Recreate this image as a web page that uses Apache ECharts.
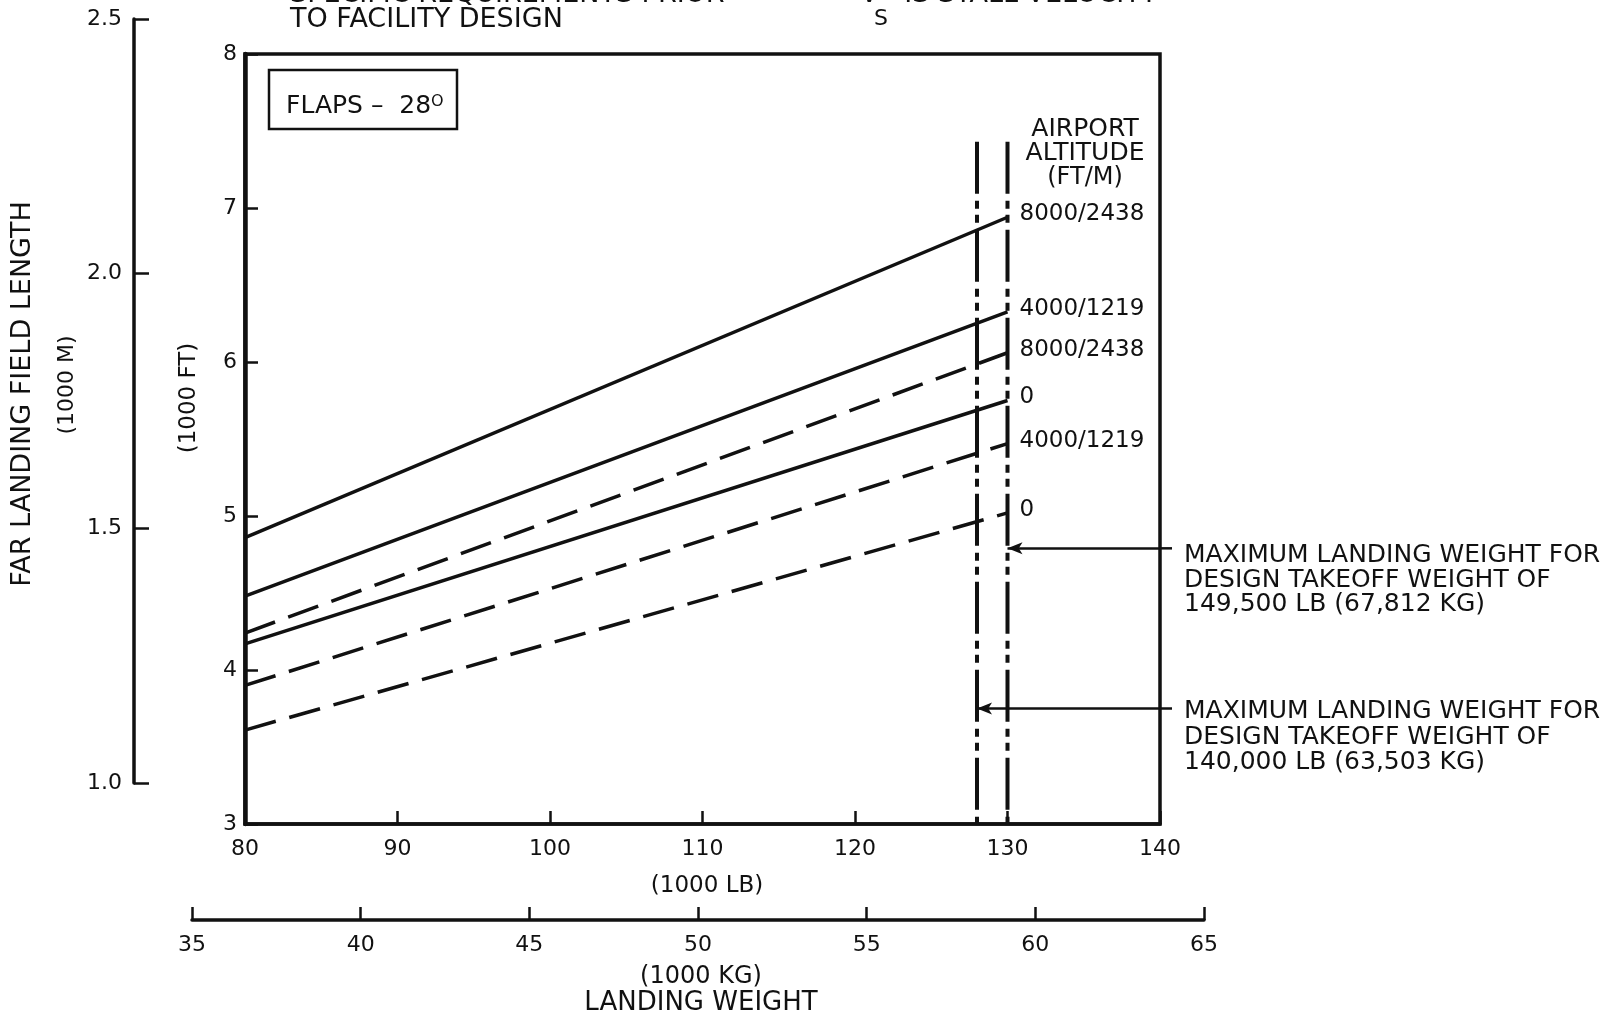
<!DOCTYPE html>
<html>
<head>
<meta charset="utf-8">
<title>FAR landing field length</title>
<script src="https://cdn.jsdelivr.net/npm/echarts@6/dist/echarts.min.js"></script>
<style>
  html, body { margin: 0; padding: 0; background: #fff; }
  #main { width: 1621px; height: 1019px; }
</style>
</head>
<body>
<div id="main"></div>
<script>
// landing weight (1000 lb) at both ends of each line
var weightLb = [80, 130];
// landing field length (1000 ft) at those weights
var solid8000 = [4.86, 6.94];
var solid4000 = [4.48, 6.325];
var solid0 = [4.17, 5.75];
var dashed8000 = [4.24, 6.06];
var dashed4000 = [3.90, 5.47];
var dashed0 = [3.61, 5.02];
var altitudeLabels = ['8000/2438', '4000/1219', '0', '8000/2438', '4000/1219', '0'];

// max landing weights (1000 lb) for the two design takeoff weights
var maxLw140 = 128;
var maxLw149 = 130;
var limitTop = 7.43;
var limitBottom = 3;
var arrowLevels = [4.79, 3.75]; // where the arrows hit the limit lines

var ftTicks = [3, 8, 1];      // min, max, interval
var mTicks = [1.0, 2.5, 0.5];
var lbTicks = [80, 140, 10];
var kgTicks = [35, 65, 5];

var F = 'DejaVu Sans';
var INK = '#111';

var chart = echarts.init(document.getElementById('main'));

function curve(i, vals, dashed) {
  return {
    type: 'line',
    xAxisIndex: 0, yAxisIndex: 0,
    data: weightLb.map(function (x, k) { return [x, vals[k]]; }),
    symbol: 'none',
    silent: true,
    z: 3,
    lineStyle: { color: INK, width: 3.5, type: dashed ? [32, 14] : 'solid' },
    endLabel: {
      show: true,
      formatter: altitudeLabels[i],
      distance: 12,
      offset: [0, -3],
      fontSize: 23,
      fontFamily: F,
      color: INK
    }
  };
}

var limitStyle = { color: INK, width: 4, type: [52, 7, 8, 6, 8, 7] };

var option = {
  animation: false,
  backgroundColor: '#fff',
  grid: [
    { left: 245, top: 54, width: 915, height: 770, show: true, borderColor: INK, borderWidth: 3.5 },
    { left: 134, top: 19, width: 10, height: 764 },
    { left: 192, top: 910, width: 1012, height: 10 }
  ],
  xAxis: [
    {
      gridIndex: 0, type: 'value', min: lbTicks[0], max: lbTicks[1], interval: lbTicks[2],
      axisLine: { lineStyle: { color: INK, width: 3.5 } },
      axisTick: { inside: true, length: 13, lineStyle: { color: INK, width: 2.5 } },
      axisLabel: { margin: 14, fontSize: 22, fontFamily: F, color: INK },
      splitLine: { show: false }
    },
    { gridIndex: 1, type: 'value', min: 0, max: 1, show: false },
    {
      gridIndex: 2, type: 'value', position: 'bottom', min: kgTicks[0], max: kgTicks[1], interval: kgTicks[2],
      axisLine: { lineStyle: { color: INK, width: 3.5 } },
      axisTick: { inside: true, length: 13, lineStyle: { color: INK, width: 2.5 } },
      axisLabel: { margin: 14, fontSize: 22, fontFamily: F, color: INK },
      splitLine: { show: false }
    }
  ],
  yAxis: [
    {
      gridIndex: 0, type: 'value', min: ftTicks[0], max: ftTicks[1], interval: ftTicks[2],
      axisLine: { show: true, lineStyle: { color: INK, width: 4.5 } },
      axisTick: { show: true, inside: true, length: 13, lineStyle: { color: INK, width: 2.5 } },
      axisLabel: { margin: 8, fontSize: 22, fontFamily: F, color: INK },
      splitLine: { show: false }
    },
    {
      gridIndex: 1, type: 'value', min: mTicks[0], max: mTicks[1], interval: mTicks[2],
      axisLine: { show: true, lineStyle: { color: INK, width: 3.5 } },
      axisTick: { show: true, inside: true, length: 15, lineStyle: { color: INK, width: 2.5 } },
      axisLabel: { margin: 12, fontSize: 22, fontFamily: F, color: INK,
        formatter: function (v) { return v.toFixed(1); } },
      splitLine: { show: false }
    },
    { gridIndex: 2, type: 'value', min: 0, max: 1, show: false }
  ],
  series: [
    curve(0, solid8000, false),
    curve(1, solid4000, false),
    curve(2, solid0, false),
    curve(3, dashed8000, true),
    curve(4, dashed4000, true),
    curve(5, dashed0, true),
    {
      type: 'line', xAxisIndex: 0, yAxisIndex: 0, symbol: 'none', silent: true, z: 4,
      data: [[maxLw140, limitTop], [maxLw140, limitBottom]],
      lineStyle: limitStyle
    },
    {
      type: 'line', xAxisIndex: 0, yAxisIndex: 0, symbol: 'none', silent: true, z: 4,
      data: [[maxLw149, limitTop], [maxLw149, limitBottom]],
      lineStyle: limitStyle,
      markLine: {
        silent: true,
        symbol: ['arrow', 'none'],
        symbolSize: [9, 15],
        label: { show: false },
        lineStyle: { color: INK, width: 2.5, type: 'solid' },
        data: [
          [{ coord: [maxLw149, arrowLevels[0]] }, { coord: [lbTicks[1], arrowLevels[0]] }],
          [{ coord: [maxLw140, arrowLevels[1]] }, { coord: [lbTicks[1], arrowLevels[1]] }]
        ]
      }
    }
  ]
};

chart.setOption(option);

function txt(x, y, s, size, extra) {
  var st = { text: s, x: x, y: y, fill: INK, font: (size || 23) + 'px "' + F + '"',
    textAlign: 'left', textVerticalAlign: 'middle' };
  for (var k in extra) st[k] = extra[k];
  return { type: 'text', silent: true, style: st };
}

function vtxt(x, y, s, size) {
  return { type: 'text', silent: true, x: x, y: y, rotation: Math.PI / 2,
    style: { text: s, fill: INK, font: size + 'px "' + F + '"',
      textAlign: 'center', textVerticalAlign: 'middle' } };
}

var ends = arrowLevels.map(function (v) { return chart.convertToPixel({ gridIndex: 0 }, [lbTicks[1], v]); });

var graphics = [
  // clipped note at the very top
  txt(290, -5, 'SPECIFIC REQUIREMENTS PRIOR', 27),
  txt(290, 20, 'TO FACILITY DESIGN', 27),
  txt(860, -5, 'V   IS STALL VELOCITY', 27),
  txt(874, 19, 'S', 22),
  // flaps box
  { type: 'rect', silent: true, shape: { x: 269, y: 70, width: 188, height: 59 },
    style: { fill: '#fff', stroke: INK, lineWidth: 2.5 } },
  { type: 'text', silent: true, x: 286, y: 106, style: {
      text: '{a|FLAPS –  28}{b|O}', textVerticalAlign: 'middle', fill: INK,
      rich: { a: { fontSize: 25, fontFamily: F, color: INK },
              b: { fontSize: 16, fontFamily: F, color: INK, verticalAlign: 'top' } } } },
  // airport altitude heading
  txt(1085, 129, 'AIRPORT', 25, { textAlign: 'center' }),
  txt(1085, 153, 'ALTITUDE', 25, { textAlign: 'center' }),
  txt(1085, 178, '(FT/M)', 24, { textAlign: 'center' }),
  // weight notes
  txt(1184, 555, 'MAXIMUM LANDING WEIGHT FOR', 25),
  txt(1184, 580, 'DESIGN TAKEOFF WEIGHT OF', 25),
  txt(1184, 604, '149,500 LB (67,812 KG)', 25),
  txt(1184, 711, 'MAXIMUM LANDING WEIGHT FOR', 25),
  txt(1184, 737, 'DESIGN TAKEOFF WEIGHT OF', 25),
  txt(1184, 762, '140,000 LB (63,503 KG)', 25),
  // axis titles
  txt(707, 886, '(1000 LB)', 23, { textAlign: 'center' }),
  txt(701, 977, '(1000 KG)', 24, { textAlign: 'center' }),
  txt(701, 1003, 'LANDING WEIGHT', 26, { textAlign: 'center' }),
  vtxt(23, 394, 'FAR LANDING FIELD LENGTH', 27),
  vtxt(67, 385, '(1000 M)', 22),
  vtxt(189, 398, '(1000 FT)', 23)
];

// arrow shafts run a little past the frame toward the notes
ends.forEach(function (p) {
  graphics.push({ type: 'line', silent: true,
    shape: { x1: p[0], y1: p[1], x2: p[0] + 12, y2: p[1] },
    style: { stroke: INK, lineWidth: 2.5 } });
});

chart.setOption({ graphic: graphics });
</script>
</body>
</html>
